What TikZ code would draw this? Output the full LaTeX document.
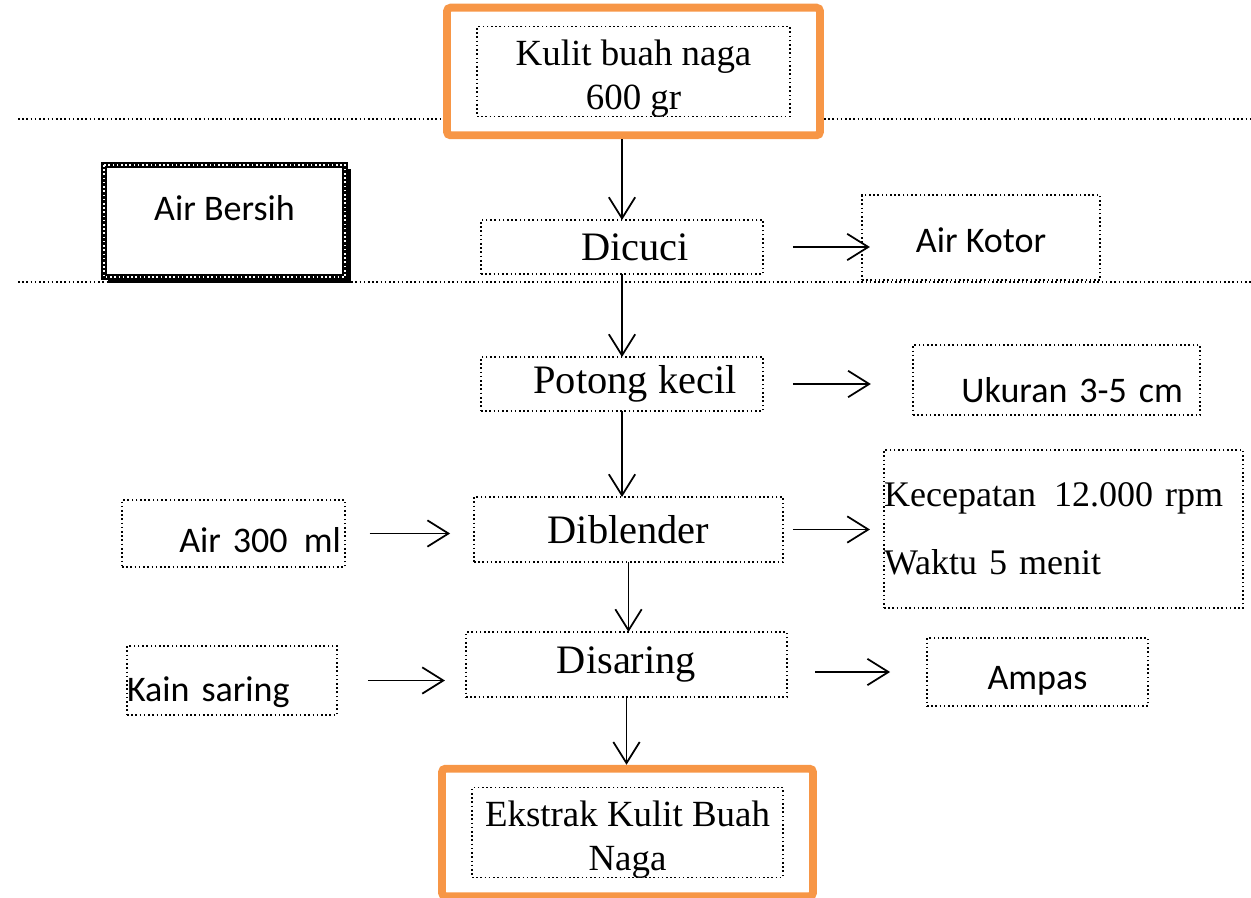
\documentclass[tikz,border=0pt]{standalone}
\usepackage{fontspec}
\setmainfont{Liberation Serif}
\newfontfamily\sansfont{Carlito}
\usetikzlibrary{arrows.meta, fit}
\definecolor{oranye}{RGB}{247,150,70}
\newcommand{\turun}[1]{\raisebox{-4pt}[\height][\depth]{\begin{tabular}{@{}c@{}}#1\end{tabular}}}

\begin{document}
\begin{tikzpicture}[x=0.02cm, y=-0.02cm,
  kotak/.style={draw, line width=0.9pt, dash pattern=on 0.9pt off 1.5pt, inner sep=0pt, outer sep=0pt, align=center},
  proses/.style={kotak, font=\fontsize{23}{26}\selectfont},
  ket/.style={kotak, font=\sansfont\fontsize{20.5}{24}\selectfont},
  hasil/.style={draw=oranye, line width=4.5pt, rounded corners=2pt, inner xsep=0.6cm, inner ysep=0.38cm},
  panah/.style={line width=1pt, -{Straight Barb[length=12pt,width=15pt]}},
  garis/.style={line width=0.9pt, dash pattern=on 0.9pt off 1.5pt}]
\useasboundingbox (0,0) rectangle (1251,898);

% bahan awal dan hasil akhir
\node[kotak, minimum width=6.26cm, minimum height=1.74cm, font=\fontsize{21}{25.5}\selectfont] (bahan) at (633.5,71.5) {\turun{Kulit buah naga\\600 gr}};
\node[hasil, fit=(bahan)] (bahanluar) {};
\node[kotak, minimum width=6.22cm, minimum height=1.78cm, font=\fontsize{21}{25.5}\selectfont] (ekstrak) at (627.5,832.5) {\turun{Ekstrak Kulit Buah\\Naga}};
\node[hasil, fit=(ekstrak)] (ekstrakluar) {};

% garis batas
\coordinate (g1a) at (18,119);
\coordinate (g1b) at (1251,119);
\coordinate (g2a) at (18,282);
\coordinate (g2b) at (1251,282);
\draw[garis] (g1a) -- (g1a -| bahanluar.west);
\draw[garis] (g1b -| bahanluar.east) -- (g1b);
\draw[garis] (g2a) -- (g2b);

% proses
\node[proses, minimum width=5.64cm, minimum height=1.08cm] (dicuci) at (622,247) {\hspace*{0.52cm}Dicuci};
\node[proses, minimum width=5.64cm, minimum height=1.08cm] (potong) at (622,384) {\hspace*{0.52cm}Potong kecil};
\node[proses, minimum width=6.18cm, minimum height=1.3cm] (diblender) at (628.5,529.5) {Diblender};
\node[proses, minimum width=6.42cm, minimum height=1.3cm] (disaring) at (626.5,664.5) {Disaring};

% masukan dan keluaran
\node[draw, line width=3.4pt, outer sep=0pt, minimum width=4.82cm, minimum height=2.24cm,
  font=\sansfont\fontsize{20.5}{24}\selectfont, text height=2pt, text depth=2pt] (bersih) at (224.5,221) {Air Bersih};
\draw[white, line width=0.9pt, dash pattern=on 0.9pt off 1.5pt] (bersih.north west) rectangle (bersih.south east);
\draw[line width=2.4pt] ([xshift=2pt,yshift=-2.4pt]bersih.south west) -| ([xshift=2.4pt,yshift=-2pt]bersih.north east);
\node[ket, minimum width=4.76cm, minimum height=1.7cm, text height=17.6pt, text depth=0pt] (kotor) at (981,237.5) {Air Kotor};
\node[ket, minimum width=5.74cm, minimum height=1.4cm, text width=5.06cm, align=right, text height=26pt, text depth=0pt] (ukuran) at (1056.5,380) {Ukuran 3-5 cm};
\node[ket, minimum width=4.46cm, minimum height=1.34cm, text width=4.3cm, align=right, text height=22pt, text depth=0pt] (air) at (233.5,533.5) {Air 300\hspace{0.45em}ml};
\node[kotak, minimum width=7.18cm, minimum height=3.16cm, text width=7.18cm, align=left, font=\fontsize{20.5}{38.6}\selectfont] (kecepatan) at (1063.5,529) {Kecepatan\hspace{0.5em}12.000 rpm\\Waktu 5 menit};
\node[ket, minimum width=4.2cm, minimum height=1.38cm, text width=4.2cm, align=left, text height=24.4pt, text depth=0pt] (kain) at (232,680.5) {Kain saring};
\node[ket, minimum width=4.42cm, minimum height=1.36cm, text height=20.4pt, text depth=0pt] (ampas) at (1037.5,672) {Ampas};

% alur utama
\draw[panah] (bahanluar.south -| dicuci.north) -- (dicuci.north);
\draw[panah] (dicuci.south) -- (dicuci.south |- potong.north);
\draw[panah] (potong.south) -- (potong.south |- diblender.north);
\draw[panah] (diblender.south) -- (diblender.south |- disaring.north);
\draw[panah] (disaring.south) -- (disaring.south |- ekstrakluar.north);

% alur samping
\draw[panah, shorten <=17pt, shorten >=-4.5pt] (dicuci.east) -- (dicuci.east -| kotor.west);
\draw[panah, shorten <=17pt, shorten >=24pt] (potong.east) -- (potong.east -| ukuran.west);
\draw[panah, shorten <=5.7pt, shorten >=8pt] (diblender.east) -- (diblender.east -| kecepatan.west);
\draw[panah, shorten <=14pt, shorten >=13.6pt] (air.east) -- (air.east -| diblender.west);
\draw[panah, shorten <=17.6pt, shorten >=12pt] (kain.east) -- (kain.east -| disaring.west);
\draw[panah, shorten <=16pt, shorten >=21pt] (ampas.west -| disaring.east) -- (ampas.west);
\end{tikzpicture}
\end{document}
